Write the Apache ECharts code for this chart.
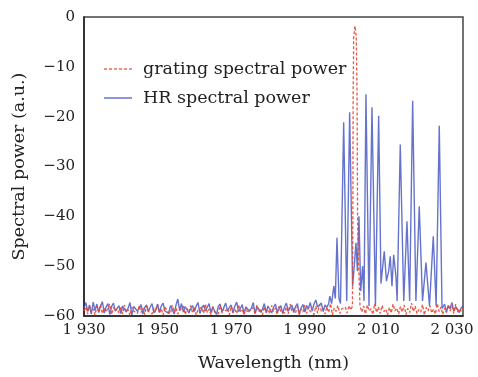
<!DOCTYPE html>
<html>
<head>
<meta charset="utf-8">
<script src="https://cdn.jsdelivr.net/npm/echarts@6/dist/echarts.min.js"></script>
<style>html,body{margin:0;padding:0;background:#fff}#c{width:478px;height:377px}</style>
</head>
<body>
<div id="c"></div>
<script>
// ---- Axis ticks ----
const xTicks = [1930, 1950, 1970, 1990, 2010, 2030];
const yTicks = [0, -10, -20, -30, -40, -50, -60];

// ---- HR spectral power (blue) ----
// noise floor before the peaks: starts at 1930 nm, step 0.5 nm
const hrNoiseAStart = 1930, hrNoiseStep = 0.5;
const hrNoiseA = [
  -58.4,-57.3,-59.1,-57.8,-59.6,-57.2,-58.9,-57.6,-59.3,-58.0,-57.1,-59.4,-58.2,-57.5,-59.7,-58.1,-57.4,-59.0,-58.6,-57.9,
  -59.5,-58.0,-57.6,-59.2,-58.4,-57.3,-59.8,-58.1,-57.9,-59.0,-58.5,-57.7,-59.6,-58.3,-57.8,-59.1,-58.2,-57.5,-59.4,-58.7,
  -57.6,-59.3,-58.0,-57.4,-59.0,-58.8,-59.5,-57.9,-58.3,-59.6,-57.8,-56.6,-58.9,-57.5,-59.2,-58.1,-57.7,-59.4,-58.5,-57.9,
  -59.1,-58.0,-57.3,-59.5,-58.4,-57.8,-59.0,-58.6,-57.5,-59.3,-58.2,-57.9,-59.7,-58.1,-57.6,-59.2,-58.8,-57.4,-59.0,-58.3,
  -57.8,-59.4,-58.0,-57.2,-59.1,-58.5,-57.7,-59.6,-58.2,-57.9,-59.0,-58.4,-57.3,-59.5,-58.1,-57.8,-59.2,-58.6,-57.5,-59.3,
  -58.0,-57.7,-59.4,-58.3,-57.6,-59.1,-58.7,-57.9,-59.5,-58.2,-57.4,-59.0,-58.6,-57.8,-59.3,-58.1,-57.5,-59.6,-58.4,-57.7,
  -59.2,-57.9,-58.5,-57.3,-59.0,-57.6,-56.8,-58.2,-58.6,-57.4,-59.1,-57.8,-58.3,-57.5
];
// peak region (wavelength nm, power)
const hrPeakWl = [1996.8,1997.3,1997.9,1998.3,1998.75,1999.3,1999.7,2000.57,2001.4,2002.2,2003.0,2003.45,2003.91,2004.3,2004.73,2005.2,2005.73,2006.1,2006.63,2007.45,2008.26,2009.2,2010.08,2010.71,2011.6,2012.2,2012.8,2013.23,2013.7,2014.16,2014.78,2015.1,2015.95,2016.9,2017.77,2018.5,2019.32,2020.2,2021.11,2022.0,2022.93,2023.9,2024.92,2025.7,2026.55,2027.3];
const hrPeakPw = [-56.0,-57.5,-54.0,-56.5,-44.3,-56.5,-57.5,-21.1,-57.0,-19.1,-54.0,-50.0,-45.3,-51.0,-40.0,-55.0,-50.0,-57.0,-15.5,-58.0,-18.1,-58.0,-19.8,-53.5,-47.0,-53.0,-51.0,-48.0,-54.0,-47.7,-52.0,-57.0,-25.6,-57.0,-41.0,-57.0,-16.8,-57.0,-38.0,-57.0,-49.3,-58.0,-44.0,-58.0,-21.8,-58.5];
// noise floor after the peaks
const hrNoiseBStart = 2027.5;
const hrNoiseB = [-58.8,-57.6,-59.2,-57.9,-58.5,-57.3,-59.0,-58.1,-57.7,-59.3,-58.4,-58.0];

// ---- Grating spectral power (red dashed) ----
const grNoiseAStart = 1930, grNoiseStep = 0.5;
const grNoiseA = [
  -59.0,-58.2,-59.6,-57.9,-59.3,-58.6,-59.8,-58.0,-59.1,-57.7,
  -59.5,-58.4,-59.2,-58.8,-57.6,-59.7,-58.3,-59.0,-58.5,-59.4,
  -58.1,-59.6,-57.8,-59.2,-58.7,-59.9,-58.2,-59.0,-58.6,-59.5,
  -57.9,-59.3,-58.4,-59.7,-58.0,-59.1,-58.8,-59.6,-58.3,-59.2,
  -57.7,-59.4,-58.5,-59.8,-58.1,-59.0,-58.6,-59.5,-57.8,-59.3,
  -58.4,-59.6,-58.9,-59.1,-58.0,-59.7,-58.5,-59.2,-57.9,-59.4,
  -58.3,-59.8,-58.7,-59.0,-58.2,-59.5,-57.6,-59.3,-58.6,-59.7,
  -58.1,-59.2,-58.8,-59.6,-57.9,-59.4,-58.4,-59.0,-58.5,-59.8,
  -58.0,-59.3,-58.7,-59.5,-57.7,-59.1,-58.6,-59.7,-58.2,-59.4,
  -58.9,-59.0,-58.3,-59.6,-57.8,-59.2,-58.5,-59.8,-58.1,-59.3,
  -58.7,-59.5,-57.9,-59.1,-58.4,-59.7,-58.0,-59.2,-58.8,-59.4,
  -58.2,-59.6,-57.6,-59.0,-58.5,-59.3,-58.1,-59.8,-58.6,-59.2,
  -57.8,-59.5,-58.3,-59.1,-58.9,-59.7,-58.0,-59.4,-57.7,-59.0,
  -58.5,-59.6,-58.2,-59.3,-57.5,-59.8,-58.4,-59.1,-57.9,-59.5,
  -58.6,-59.0,-58.2,-59.4,-57.9
];
const grPeakWl = [2002.5,2002.95,2003.05,2003.15,2003.3,2003.64,2004.0,2004.2,2004.35,2004.5,2004.75,2005.0];
const grPeakPw = [-58.8,-58.0,-45.0,-15.0,-4.0,-1.8,-4.0,-15.0,-40.0,-47.0,-52.0,-58.0];
const grNoiseBStart = 2005.5;
const grNoiseB = [
  -59.2,-58.0,-59.6,-57.8,-59.0,-58.5,-59.7,-57.5,-59.3,-58.2,
  -59.5,-57.9,-59.1,-58.6,-59.8,-58.3,-59.4,-57.6,-59.0,-58.4,
  -59.6,-58.1,-59.2,-57.8,-59.7,-58.5,-59.3,-57.4,-59.1,-58.0,
  -59.5,-58.7,-59.2,-57.7,-59.8,-58.3,-59.0,-57.9,-59.4,-58.6,
  -59.6,-57.5,-59.1,-58.2,-59.7,-58.4,-59.3,-57.8,-59.0,-58.1,
  -59.5,-57.6,-59.2,-58.5,-59.0,-58.3
];

function gridPairs(start, step, vals) { return vals.map((v, i) => [start + i * step, v]); }
function zipPairs(xs, ys) { return xs.map((x, i) => [x, ys[i]]); }

const hrData = gridPairs(hrNoiseAStart, hrNoiseStep, hrNoiseA)
  .concat(zipPairs(hrPeakWl, hrPeakPw))
  .concat(gridPairs(hrNoiseBStart, hrNoiseStep, hrNoiseB));
const grData = gridPairs(grNoiseAStart, grNoiseStep, grNoiseA)
  .concat(zipPairs(grPeakWl, grPeakPw))
  .concat(gridPairs(grNoiseBStart, grNoiseStep, grNoiseB));

const serif = '"DejaVu Serif", serif';
const chart = echarts.init(document.getElementById('c'), null, {renderer: 'canvas'});
chart.setOption({
  animation: false,
  backgroundColor: '#fff',
  grid: {left: 84, right: 15, top: 17, bottom: 58, show: true, borderColor: '#444', borderWidth: 1.5, backgroundColor: 'transparent'},
  legend: {
    data: ['grating spectral power', 'HR spectral power'],
    orient: 'vertical', left: 98, top: 54, itemWidth: 28, itemHeight: 14, itemGap: 9,
    itemStyle: {opacity: 0},
    lineStyle: {opacity: 0.6},
    textStyle: {fontFamily: serif, fontSize: 17.5, color: '#222', lineHeight: 20, padding: [0, 0, 0, 6]}
  },
  xAxis: {
    type: 'value', min: 1930, max: 2033, interval: 20,
    name: 'Wavelength (nm)', nameLocation: 'middle', nameGap: 38,
    nameTextStyle: {fontFamily: serif, fontSize: 17.5, color: '#222'},
    axisLine: {show: true, onZero: false, lineStyle: {color: '#222', width: 1.5}},
    axisTick: {show: false},
    splitLine: {show: false},
    axisLabel: {
      margin: 7, fontFamily: serif, fontSize: 15, color: '#222',
      customValues: xTicks,
      formatter: v => xTicks.includes(v) ? String(v).replace(/^(\d)(\d{3})$/, '$1 $2') : ''
    }
  },
  yAxis: {
    type: 'value', min: -60, max: 0, interval: 10,
    name: 'Spectral power (a.u.)', nameLocation: 'middle', nameGap: 56,
    nameTextStyle: {fontFamily: serif, fontSize: 17.5, color: '#222'},
    axisLine: {show: true, lineStyle: {color: '#222', width: 1.5}},
    axisTick: {show: false},
    splitLine: {show: false},
    axisLabel: {
      margin: 9, fontFamily: serif, fontSize: 15, color: '#222',
      formatter: v => yTicks.includes(v) ? (v < 0 ? '\u2212' + Math.abs(v) : String(v)) : ''
    }
  },
  series: [
    {
      name: 'HR spectral power', type: 'line', data: hrData, symbol: 'none', z: 2,
      lineStyle: {color: '#3f50c0', width: 1.4, opacity: 0.8},
      itemStyle: {color: '#8a93d6'}
    },
    {
      name: 'grating spectral power', type: 'line', data: grData, symbol: 'none', z: 3,
      lineStyle: {color: '#e8442f', width: 1.3, type: [3, 2], opacity: 0.9},
      itemStyle: {color: '#ee6a5a'}
    }
  ]
});
</script>
</body>
</html>
